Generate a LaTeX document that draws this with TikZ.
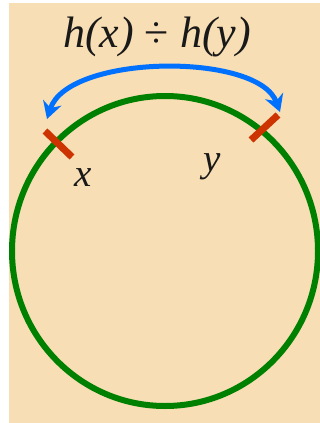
\documentclass[tikz,border=0pt]{standalone}
\usepackage{fontspec}
\setmainfont{Liberation Serif}
\usetikzlibrary{arrows.meta}
\definecolor{bgbeige}{RGB}{248,222,180}
\definecolor{ringgreen}{RGB}{0,128,0}
\definecolor{tickred}{RGB}{204,51,0}
\definecolor{arcblue}{RGB}{0,112,255}
\definecolor{textgray}{RGB}{25,25,25}
\tikzset{
  ring/.style={draw=ringgreen, line width=6pt},
  tickmark/.style={draw=tickred, line width=7pt},
  arcarrow/.style={draw=arcblue, line width=5pt, {Stealth[length=17pt,width=19pt]}-{Stealth[length=17pt,width=19pt]}},
  lbl/.style={text=textgray, font=\fontsize{39}{42}\selectfont\itshape, inner sep=0pt},
  ttl/.style={text=textgray, font=\fontsize{44}{48}\selectfont\itshape, inner sep=0pt}
}
\begin{document}
\begin{tikzpicture}[x=1pt,y=-1pt]
\useasboundingbox (0,0) rectangle (320,423);
\fill[bgbeige] (9,3) rectangle (320,423);
\draw[ring] (165,251) ellipse [x radius=153, y radius=155];
\coordinate (xa) at (45,131);
\coordinate (xb) at (72,157);
\coordinate (ya) at (278,115);
\coordinate (yb) at (251,140);
\draw[tickmark] (xa) -- (xb);
\draw[tickmark] (ya) -- (yb);
\coordinate (arcL) at (47,119);
\coordinate (arcR) at (280,112);
\draw[arcarrow] (arcL) .. controls (68,54) and (258,52) .. (arcR);
\node[ttl] (title) at (157,37) {h(x) \upshape÷\itshape{} h(y)};
\node[lbl] (xl) at (83,178) {x};
\node[lbl] (yl) at (212,167) {y};
\end{tikzpicture}
\end{document}
